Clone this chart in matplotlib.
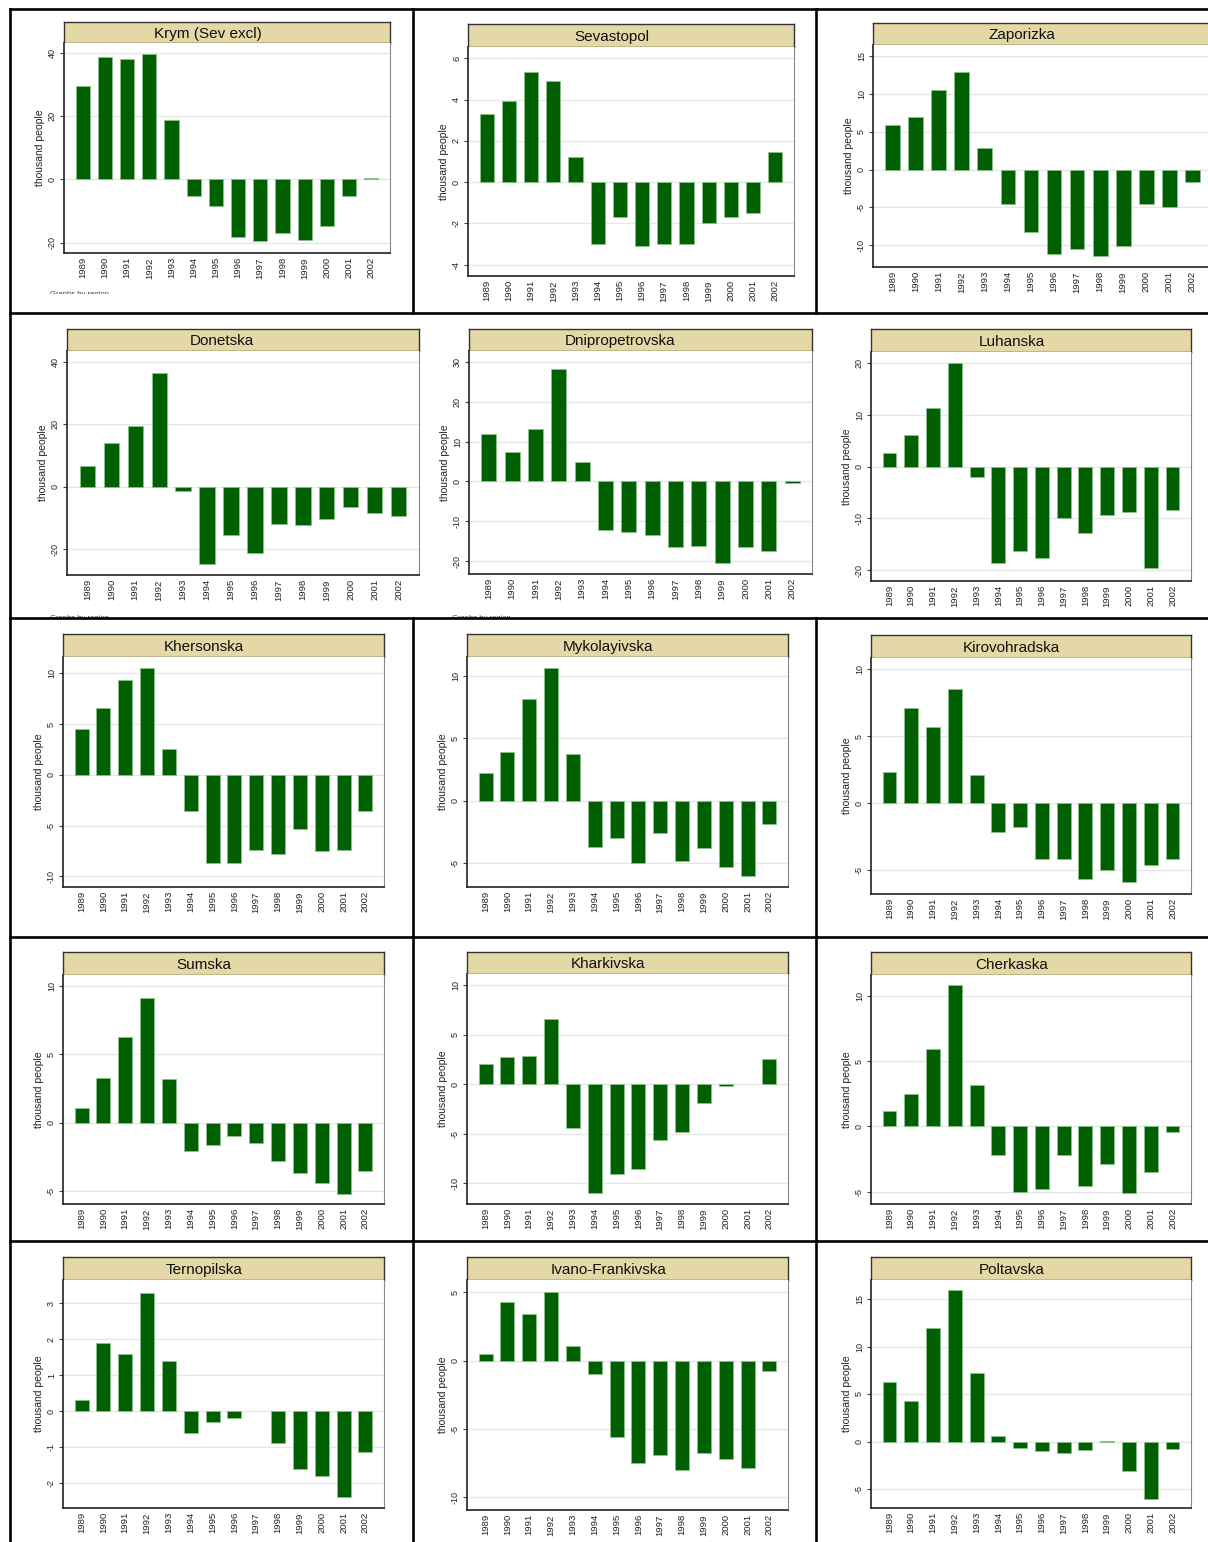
import numpy as np
import matplotlib
matplotlib.use("Agg")
import matplotlib.pyplot as plt
from matplotlib.lines import Line2D
from matplotlib.patches import Rectangle

plt.rcParams['font.family'] = ['Liberation Sans', 'DejaVu Sans']

years = [str(y) for y in range(1989, 2003)]

regions = ['Krym (Sev excl)', 'Sevastopol', 'Zaporizka',
           'Donetska', 'Dnipropetrovska', 'Luhanska',
           'Khersonska', 'Mykolayivska', 'Kirovohradska',
           'Sumska', 'Kharkivska', 'Cherkaska',
           'Ternopilska', 'Ivano-Frankivska', 'Poltavska']

krym = [29.5, 38.8, 38.1, 39.7, 18.7, -5.1, -8.4, -18.3, -19.4, -16.9, -19.1, -14.7, -5.4, 0.5]
sevastopol = [3.32, 3.94, 5.32, 4.92, 1.23, -3.0, -1.69, -3.1, -3.0, -3.0, -1.98, -1.69, -1.48, 1.44]
zaporizka = [5.9, 6.9, 10.5, 12.9, 2.8, -4.5, -8.2, -11.2, -10.5, -11.5, -10.1, -4.6, -5.0, -1.6]
donetska = [6.7, 14.0, 19.5, 36.4, -1.2, -24.8, -15.4, -21.1, -11.8, -12.1, -10.4, -6.4, -8.5, -9.4]
dnipro = [11.8, 7.3, 13.1, 28.3, 4.8, -12.1, -12.6, -13.5, -16.5, -16.3, -20.5, -16.5, -17.4, -0.3]
luhanska = [2.6, 6.0, 11.3, 20.0, -2.1, -18.7, -16.3, -17.6, -10.0, -12.8, -9.3, -8.8, -19.5, -8.3]
khersonska = [4.5, 6.6, 9.3, 10.5, 2.5, -3.6, -8.65, -8.65, -7.4, -7.8, -5.3, -7.5, -7.4, -3.55]
mykolayivska = [2.2, 3.9, 8.1, 10.6, 3.7, -3.7, -3.0, -5.0, -2.6, -4.8, -3.8, -5.3, -6.0, -1.85]
kirovohradska = [2.3, 7.1, 5.7, 8.5, 2.1, -2.2, -1.8, -4.2, -4.2, -5.7, -5.0, -5.9, -4.6, -4.2]
sumska = [1.1, 3.3, 6.3, 9.1, 3.2, -2.1, -1.6, -1.0, -1.5, -2.8, -3.7, -4.4, -5.2, -3.5]
kharkivska = [2.1, 2.8, 2.9, 6.6, -4.4, -11.0, -9.1, -8.6, -5.6, -4.8, -1.9, -0.15, np.nan, 2.6]
cherkaska = [1.2, 2.5, 5.9, 10.8, 3.2, -2.2, -5.0, -4.8, -2.2, -4.6, -2.9, -5.1, -3.5, -0.4]
ternopilska = [0.3, 1.9, 1.6, 3.3, 1.4, -0.6, -0.3, -0.2, np.nan, -0.9, -1.6, -1.8, -2.4, -1.15]
ivano = [0.5, 4.3, 3.4, 5.0, 1.1, -1.0, -5.6, -7.5, -6.9, -8.0, -6.8, -7.2, -7.9, -0.8]
poltavska = [6.3, 4.3, 11.9, 15.9, 7.2, 0.6, -0.7, -1.0, -1.2, -0.9, 0.1, -3.1, -6.0, -0.8]

values = [krym, sevastopol, zaporizka, donetska, dnipro, luhanska,
          khersonska, mykolayivska, kirovohradska, sumska, kharkivska, cherkaska,
          ternopilska, ivano, poltavska]

ylims = [(-23.3, 43.2), (-4.55, 6.55), (-12.9, 16.5),
         (-28.2, 43.4), (-23.2, 32.7), (-22.1, 22.1),
         (-11.05, 11.6), (-6.9, 11.5), (-6.8, 10.85),
         (-5.95, 10.8), (-12.1, 11.15), (-5.95, 11.6),
         (-2.7, 3.65), (-10.95, 5.9), (-7.0, 17.0)]

yticks = [[-20, 0, 20, 40], [-4, -2, 0, 2, 4, 6], [-10, -5, 0, 5, 10, 15],
          [-20, 0, 20, 40], [-20, -10, 0, 10, 20, 30], [-20, -10, 0, 10, 20],
          [-10, -5, 0, 5, 10], [-5, 0, 5, 10], [-5, 0, 5, 10],
          [-5, 0, 5, 10], [-10, -5, 0, 5, 10], [-5, 0, 5, 10],
          [-2, -1, 0, 1, 2, 3], [-10, -5, 0, 5], [-5, 0, 5, 10, 15]]

# panel boxes in pixels: left, right, title top, plot top, plot bottom
boxes = [(64, 390, 22, 43, 253), (468, 794, 24, 47, 276), (873, 1212, 23, 45, 267),
         (67, 419, 329, 351, 575), (469, 812, 329, 351, 574), (871, 1191, 329, 352, 581),
         (63, 384, 634, 657, 887), (467, 788, 634, 657, 887), (871, 1191, 635, 658, 894),
         (63, 384, 952, 975, 1204), (467, 788, 952, 974, 1204), (871, 1191, 952, 975, 1204),
         (63, 384, 1257, 1280, 1508), (467, 788, 1257, 1280, 1510), (871, 1191, 1257, 1280, 1508)]

W, H = 1208, 1542
fig = plt.figure(figsize=(W / 100, H / 100), dpi=100)
fig.patch.set_facecolor('white')

def fx(x):
    return x / W

def fy(y):
    return 1 - y / H

for name, vals, yl, yt, (l, r, tt, pt, pb) in zip(regions, values, ylims, yticks, boxes):
    # title strip
    tax = fig.add_axes([fx(l), fy(pt), fx(r - l), (pt - tt) / H])
    tax.set_facecolor('#e4d8a6')
    tax.set_xticks([])
    tax.set_yticks([])
    for s in tax.spines.values():
        s.set_color('#333333')
        s.set_linewidth(1.0)
    tax.text(0.44, 0.45, name, ha='center', va='center', fontsize=11,
             family=['Liberation Sans Narrow', 'Liberation Sans'], color='#111111')

    ax = fig.add_axes([fx(l), fy(pb), fx(r - l), (pb - pt) / H])
    ax.bar(np.arange(len(years)), vals, width=0.64, color='#005f00',
           edgecolor='#8cc08c', linewidth=0.6, zorder=3)
    ax.set_xlim(-0.85, 13.85)
    ax.set_ylim(*yl)
    ax.set_yticks(yt)
    ax.set_yticklabels([str(t) for t in yt], rotation=90, va='center', fontsize=6.5, color='#222222')
    ax.set_xticks(np.arange(len(years)))
    ax.set_xticklabels(years, rotation=90, fontsize=6.8, color='#222222')
    ax.tick_params(axis='x', length=0, pad=3)
    ax.tick_params(axis='y', length=3, width=0.8, pad=2, color='#444444')
    ax.yaxis.grid(True, color='#e6e6e6', linewidth=1.0)
    ax.set_axisbelow(True)
    ax.set_ylabel('thousand people', fontsize=7.5, labelpad=2, color='#222222')
    ax.spines['top'].set_visible(False)
    ax.spines['right'].set_color('#888888')
    ax.spines['left'].set_color('#222222')
    ax.spines['bottom'].set_color('#222222')
    ax.spines['left'].set_linewidth(1.2)
    ax.spines['bottom'].set_linewidth(1.2)

# partly cut "Graphs by region" notes
for x, y in [(50, 291), (50, 615), (452, 615)]:
    fig.text(fx(x), fy(y), 'Graphs by region', fontsize=5.5, color='#444444', va='top')
for x, y in [(40, 294), (40, 619), (442, 619)]:
    fig.add_artist(Rectangle((fx(x), fy(y + 7)), fx(120), 7 / H, transform=fig.transFigure,
                             facecolor='white', edgecolor='none', zorder=5))

# table borders
lw = 1.9
def hline(y, x0=10, x1=W):
    fig.add_artist(Line2D([fx(x0), fx(x1)], [fy(y), fy(y)], color='black', lw=lw, zorder=10))

def vline(x, y0, y1):
    fig.add_artist(Line2D([fx(x), fx(x)], [fy(y0), fy(y1)], color='black', lw=lw, zorder=10))

for y in [9, 313, 618, 937, 1241]:
    hline(y)
vline(10, 9, H)
for x in [412.5, 815.5]:
    vline(x, 9, 313)
    vline(x, 618, H)

fig.savefig('out.png', dpi=100)
